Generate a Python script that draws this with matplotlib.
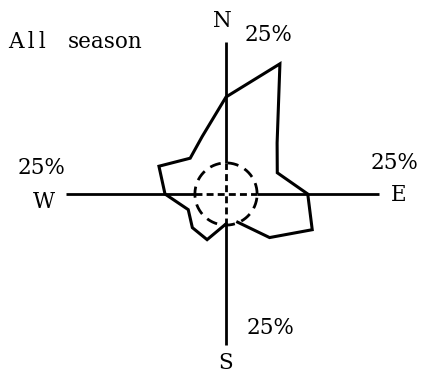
import numpy as np
import matplotlib
matplotlib.use('Agg')
import matplotlib.pyplot as plt

# wind frequency (%) for 16 directions, clockwise from N
directions = ["N", "NNE", "NE", "ENE", "E", "ESE", "SE", "SSE",
              "S", "SSW", "SW", "WSW", "W", "WNW", "NW", "NNW"]
freq = [15.9, 23.1, 11.85, 9.1, 13.4, 15.3, 10.1, 5.0,
        4.9, 8.1, 7.8, 6.7, 10.0, 11.9, 8.3, 10.2]
calm = 5.1
# arm lengths for N, E, S, W (%)
arm_len = {"N": 25, "E": 25, "S": 24.8, "W": 26.2}
scale_label = "25%"

PX = 6.1          # pixels per percent
CX, CY = 226, 194  # centre in pixels (from top-left)
W_PX, H_PX = 425, 373

fig = plt.figure(figsize=(W_PX / 100, H_PX / 100), dpi=100)
ax = fig.add_axes([0, 0, 1, 1])
ax.set_xlim(-CX / PX, (W_PX - CX) / PX)
ax.set_ylim(-(H_PX - CY) / PX, CY / PX)
ax.axis('off')


def pt(px, py):
    return (px - CX) / PX, (CY - py) / PX


lw = 2.0
# axis arms: solid outside the calm circle, dashed inside
ax.plot([0, 0], [calm, arm_len["N"]], color='black', lw=lw, solid_capstyle='butt')
ax.plot([0, 0], [-calm, -arm_len["S"]], color='black', lw=lw, solid_capstyle='butt')
ax.plot([calm, arm_len["E"]], [0, 0], color='black', lw=lw, solid_capstyle='butt')
ax.plot([-calm, -arm_len["W"]], [0, 0], color='black', lw=lw, solid_capstyle='butt')
ax.plot([0, 0], [-calm, calm], color='black', lw=lw, dashes=(2.5, 1.5))
ax.plot([-calm, calm], [0, 0], color='black', lw=lw, dashes=(2.5, 1.5))

# calm circle
t = np.linspace(0, 2 * np.pi, 200)
ax.plot(calm * np.cos(t), calm * np.sin(t), color='black', lw=lw, dashes=(4, 2.5))

# rose polygon, open between SSE and S
ang = np.deg2rad(np.arange(16) * 22.5)
r = np.array(freq)
xs = r * np.sin(ang)
ys = r * np.cos(ang)
order = list(range(8, 16)) + list(range(0, 8))
ax.plot(xs[order], ys[order], color='black', lw=2.2, solid_joinstyle='miter')

fs = 15.5
font = dict(family='DejaVu Serif', fontsize=fs, color='black')
ax.text(*pt(8, 42), "A\u2009l\u2009l", ha='left', va='center', **font)
ax.text(*pt(68, 42), "season", ha='left', va='center', **font)
ax.text(*pt(222, 21), "N", ha='center', va='center', **font)
ax.text(*pt(226, 363), "S", ha='center', va='center', **font)
ax.text(*pt(44, 202), "W", ha='center', va='center', **font)
ax.text(*pt(399, 195), "E", ha='center', va='center', **font)
ax.text(*pt(269, 35), scale_label, ha='center', va='center', **font)
ax.text(*pt(271, 328), scale_label, ha='center', va='center', **font)
ax.text(*pt(41, 168), scale_label, ha='center', va='center', **font)
ax.text(*pt(395, 163), scale_label, ha='center', va='center', **font)

fig.savefig("out.png", dpi=100)
